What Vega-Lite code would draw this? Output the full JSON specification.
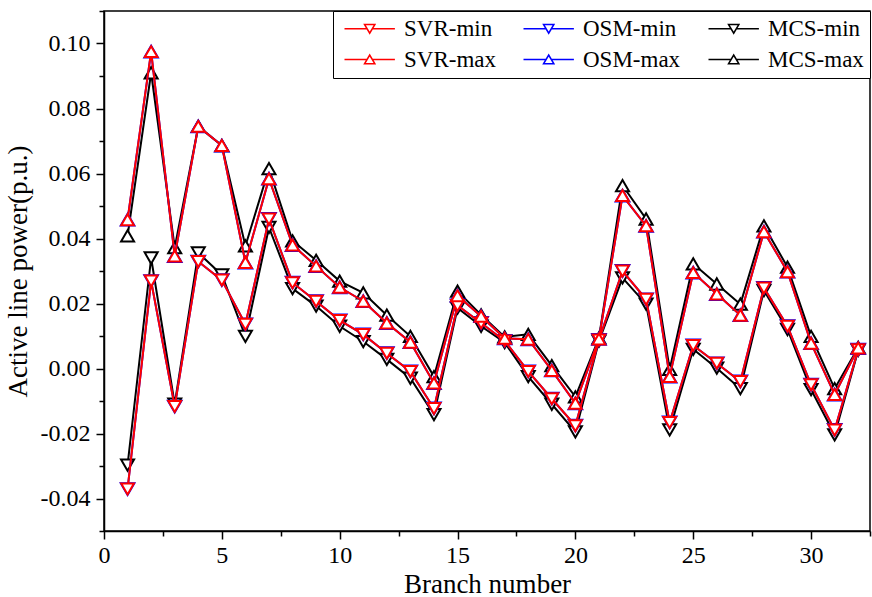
{
  "$schema": "https://vega.github.io/schema/vega-lite/v6.json",
  "width": 766,
  "height": 520,
  "autosize": "none",
  "padding": {"left": 104, "top": 11, "right": 2, "bottom": 66},
  "background": "white",
  "config": {
    "view": {"stroke": "black", "strokeWidth": 1.5},
    "font": "Liberation Serif",
    "axis": {
      "labelFont": "Liberation Serif",
      "titleFont": "Liberation Serif",
      "labelColor": "black",
      "titleColor": "black",
      "labelFontSize": 24,
      "titleFontSize": 27,
      "titleFontWeight": "normal",
      "domainColor": "black",
      "domainWidth": 1.5,
      "tickColor": "black",
      "tickWidth": 1.5,
      "grid": false
    },
    "legend": {
      "labelFont": "Liberation Serif",
      "labelFontSize": 23,
      "labelColor": "black"
    }
  },
  "data": {
    "values": [
      {"b": 1, "SVR-min": -0.0371, "SVR-max": 0.0458, "OSM-min": -0.0371, "OSM-max": 0.0458, "MCS-min": -0.0297, "MCS-max": 0.0408},
      {"b": 2, "SVR-min": 0.0269, "SVR-max": 0.0975, "OSM-min": 0.0269, "OSM-max": 0.0975, "MCS-min": 0.034, "MCS-max": 0.091},
      {"b": 3, "SVR-min": -0.0117, "SVR-max": 0.0346, "OSM-min": -0.0117, "OSM-max": 0.0346, "MCS-min": -0.011, "MCS-max": 0.0372},
      {"b": 4, "SVR-min": 0.0329, "SVR-max": 0.0745, "OSM-min": 0.0329, "OSM-max": 0.0745, "MCS-min": 0.0356, "MCS-max": 0.0745},
      {"b": 5, "SVR-min": 0.0272, "SVR-max": 0.0686, "OSM-min": 0.0272, "OSM-max": 0.0686, "MCS-min": 0.0288, "MCS-max": 0.0686},
      {"b": 6, "SVR-min": 0.0136, "SVR-max": 0.0326, "OSM-min": 0.0136, "OSM-max": 0.0326, "MCS-min": 0.0099, "MCS-max": 0.0377},
      {"b": 7, "SVR-min": 0.046, "SVR-max": 0.0584, "OSM-min": 0.046, "OSM-max": 0.0584, "MCS-min": 0.0434, "MCS-max": 0.0615},
      {"b": 8, "SVR-min": 0.0264, "SVR-max": 0.038, "OSM-min": 0.0264, "OSM-max": 0.038, "MCS-min": 0.0246, "MCS-max": 0.0393},
      {"b": 9, "SVR-min": 0.0207, "SVR-max": 0.0315, "OSM-min": 0.0207, "OSM-max": 0.0315, "MCS-min": 0.0192, "MCS-max": 0.0333},
      {"b": 10, "SVR-min": 0.0148, "SVR-max": 0.025, "OSM-min": 0.0148, "OSM-max": 0.025, "MCS-min": 0.013, "MCS-max": 0.0269},
      {"b": 11, "SVR-min": 0.0105, "SVR-max": 0.0207, "OSM-min": 0.0105, "OSM-max": 0.0207, "MCS-min": 0.0083, "MCS-max": 0.0233},
      {"b": 12, "SVR-min": 0.0047, "SVR-max": 0.014, "OSM-min": 0.0047, "OSM-max": 0.014, "MCS-min": 0.0028, "MCS-max": 0.0164},
      {"b": 13, "SVR-min": -0.0009, "SVR-max": 0.0081, "OSM-min": -0.0009, "OSM-max": 0.0081, "MCS-min": -0.003, "MCS-max": 0.0099},
      {"b": 14, "SVR-min": -0.0123, "SVR-max": -0.0045, "OSM-min": -0.0123, "OSM-max": -0.0045, "MCS-min": -0.0142, "MCS-max": -0.0025},
      {"b": 15, "SVR-min": 0.0194, "SVR-max": 0.0224, "OSM-min": 0.0194, "OSM-max": 0.0224, "MCS-min": 0.0186, "MCS-max": 0.0238},
      {"b": 16, "SVR-min": 0.014, "SVR-max": 0.0161, "OSM-min": 0.014, "OSM-max": 0.0161, "MCS-min": 0.013, "MCS-max": 0.0165},
      {"b": 17, "SVR-min": 0.0085, "SVR-max": 0.0093, "OSM-min": 0.0085, "OSM-max": 0.0093, "MCS-min": 0.008, "MCS-max": 0.0097},
      {"b": 18, "SVR-min": -0.0009, "SVR-max": 0.009, "OSM-min": -0.0009, "OSM-max": 0.009, "MCS-min": -0.0025, "MCS-max": 0.0105},
      {"b": 19, "SVR-min": -0.0093, "SVR-max": -0.0006, "OSM-min": -0.0093, "OSM-max": -0.0006, "MCS-min": -0.011, "MCS-max": 0.0009},
      {"b": 20, "SVR-min": -0.0176, "SVR-max": -0.0107, "OSM-min": -0.0176, "OSM-max": -0.0107, "MCS-min": -0.0195, "MCS-max": -0.0087},
      {"b": 21, "SVR-min": 0.0088, "SVR-max": 0.0091, "OSM-min": 0.0088, "OSM-max": 0.0091, "MCS-min": 0.0084, "MCS-max": 0.0094},
      {"b": 22, "SVR-min": 0.03, "SVR-max": 0.0532, "OSM-min": 0.03, "OSM-max": 0.0532, "MCS-min": 0.0279, "MCS-max": 0.0563},
      {"b": 23, "SVR-min": 0.0213, "SVR-max": 0.0439, "OSM-min": 0.0213, "OSM-max": 0.0439, "MCS-min": 0.0198, "MCS-max": 0.046},
      {"b": 24, "SVR-min": -0.0166, "SVR-max": -0.0025, "OSM-min": -0.0166, "OSM-max": -0.0025, "MCS-min": -0.0189, "MCS-max": -0.0003},
      {"b": 25, "SVR-min": 0.0071, "SVR-max": 0.0295, "OSM-min": 0.0071, "OSM-max": 0.0295, "MCS-min": 0.0059, "MCS-max": 0.0322},
      {"b": 26, "SVR-min": 0.0016, "SVR-max": 0.0229, "OSM-min": 0.0016, "OSM-max": 0.0229, "MCS-min": 0.0001, "MCS-max": 0.026},
      {"b": 27, "SVR-min": -0.004, "SVR-max": 0.0164, "OSM-min": -0.004, "OSM-max": 0.0164, "MCS-min": -0.0062, "MCS-max": 0.0198},
      {"b": 28, "SVR-min": 0.0248, "SVR-max": 0.0421, "OSM-min": 0.0248, "OSM-max": 0.0421, "MCS-min": 0.024, "MCS-max": 0.0439},
      {"b": 29, "SVR-min": 0.013, "SVR-max": 0.0298, "OSM-min": 0.013, "OSM-max": 0.0298, "MCS-min": 0.012, "MCS-max": 0.0312},
      {"b": 30, "SVR-min": -0.005, "SVR-max": 0.0078, "OSM-min": -0.005, "OSM-max": 0.0078, "MCS-min": -0.0065, "MCS-max": 0.0099},
      {"b": 31, "SVR-min": -0.0189, "SVR-max": -0.008, "OSM-min": -0.0189, "OSM-max": -0.008, "MCS-min": -0.0204, "MCS-max": -0.0062},
      {"b": 32, "SVR-min": 0.0058, "SVR-max": 0.0063, "OSM-min": 0.0058, "OSM-max": 0.0063, "MCS-min": 0.0056, "MCS-max": 0.0065}
    ]
  },
  "transform": [
    {"fold": ["SVR-min", "SVR-max", "OSM-min", "OSM-max", "MCS-min", "MCS-max"], "as": ["series", "value"]}
  ],
  "encoding": {
    "x": {
      "field": "b", "type": "quantitative",
      "scale": {"domain": [0, 32.5], "nice": false, "zero": false},
      "axis": {
        "title": "Branch number",
        "values": [0, 2.5, 5, 7.5, 10, 12.5, 15, 17.5, 20, 22.5, 25, 27.5, 30, 32.5],
        "labelExpr": "datum.value % 5 === 0 ? datum.label : ''",
        "tickSize": {"condition": {"test": "datum.value % 5 === 0", "value": 8}, "value": 5},
        "labelPadding": 4,
        "titlePadding": 4,
        "labelFlush": false,
        "labelOverlap": false
      }
    },
    "y": {
      "field": "value", "type": "quantitative",
      "scale": {"domain": [-0.05, 0.11], "nice": false, "zero": false},
      "axis": {
        "title": "Active line power(p.u.)",
        "values": [-0.05, -0.04, -0.03, -0.02, -0.01, 0, 0.01, 0.02, 0.03, 0.04, 0.05, 0.06, 0.07, 0.08, 0.09, 0.1, 0.11],
        "labelExpr": "abs(round(datum.value*100)) % 2 === 0 ? replace(format(datum.value, '.2f'), '−', '-') : ''",
        "tickSize": {"condition": {"test": "abs(round(datum.value*100)) % 2 === 0", "value": 8}, "value": 5},
        "labelPadding": 6,
        "titlePadding": 8,
        "labelFlush": false,
        "labelOverlap": false
      }
    },
    "color": {
      "field": "series", "type": "nominal",
      "scale": {
        "domain": ["SVR-min", "SVR-max", "OSM-min", "OSM-max", "MCS-min", "MCS-max"],
        "range": ["#ff0000", "#ff0000", "#0000ff", "#0000ff", "#000000", "#000000"]
      },
      "legend": {
        "title": null,
        "orient": "top-right",
        "offset": 0,
        "columns": 3,
        "columnPadding": 22,
        "rowPadding": 7,
        "padding": 6,
        "strokeColor": "black",
        "fillColor": "white",
        "symbolSize": 144,
        "symbolStrokeWidth": 1.6,
        "labelOffset": 42,
        "encode": {
          "symbols": {
            "update": {
              "shape": {"signal": "indexof(datum.value, 'min') >= 0 ? 'M-1,0H2.7M3.7,0H7.4M2.35,-0.7L4.05,-0.7L3.2,0.75Z' : 'M-1,0H2.7M3.7,0H7.4M2.35,0.7L4.05,0.7L3.2,-0.75Z'"},
              "fill": {"value": "white"},
              "fillOpacity": {"value": 1},
              "strokeWidth": {"value": 1.6}
            }
          }
        }
      }
    }
  },
  "layer": [
    {
      "transform": [{"filter": {"field": "series", "oneOf": ["MCS-min", "MCS-max"]}}],
      "layer": [
        {"mark": {"type": "line", "strokeWidth": 2}},
        {"transform": [{"filter": {"field": "series", "equal": "MCS-min"}}], "mark": {"type": "point", "shape": "triangle-down", "filled": false, "fill": "white", "fillOpacity": 1, "strokeWidth": 2, "size": 170, "opacity": 1}},
        {"transform": [{"filter": {"field": "series", "equal": "MCS-max"}}], "mark": {"type": "point", "shape": "triangle-up", "filled": false, "fill": "white", "fillOpacity": 1, "strokeWidth": 2, "size": 170, "opacity": 1}}
      ]
    },
    {
      "transform": [{"filter": {"field": "series", "oneOf": ["OSM-min", "OSM-max"]}}],
      "layer": [
        {"mark": {"type": "line", "strokeWidth": 2}},
        {"transform": [{"filter": {"field": "series", "equal": "OSM-min"}}], "mark": {"type": "point", "shape": "triangle-down", "filled": false, "fill": "white", "fillOpacity": 1, "strokeWidth": 2, "size": 185, "opacity": 1}},
        {"transform": [{"filter": {"field": "series", "equal": "OSM-max"}}], "mark": {"type": "point", "shape": "triangle-up", "filled": false, "fill": "white", "fillOpacity": 1, "strokeWidth": 2, "size": 185, "opacity": 1}}
      ]
    },
    {
      "transform": [{"filter": {"field": "series", "oneOf": ["SVR-min", "SVR-max"]}}],
      "layer": [
        {"mark": {"type": "line", "strokeWidth": 2}},
        {"transform": [{"filter": {"field": "series", "equal": "SVR-min"}}], "mark": {"type": "point", "shape": "triangle-down", "filled": false, "fill": "white", "fillOpacity": 1, "strokeWidth": 2, "size": 160, "opacity": 1}},
        {"transform": [{"filter": {"field": "series", "equal": "SVR-max"}}], "mark": {"type": "point", "shape": "triangle-up", "filled": false, "fill": "white", "fillOpacity": 1, "strokeWidth": 2, "size": 160, "opacity": 1}}
      ]
    }
  ]
}
